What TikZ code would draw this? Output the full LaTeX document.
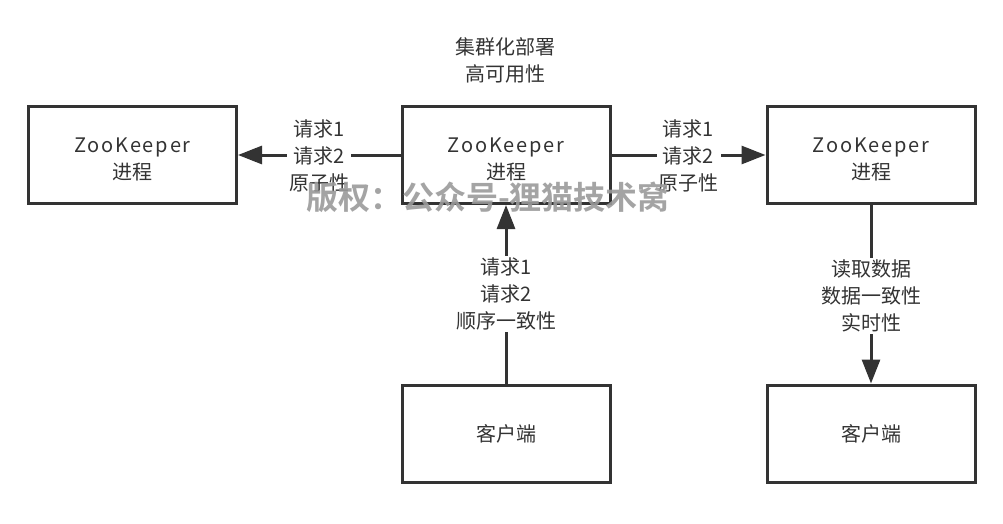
\documentclass[tikz,border=0pt]{standalone}
\usepackage{fontspec}
\setmainfont{Noto Sans CJK SC}
\newfontfamily\wmfont{Noto Sans CJK SC Bold}
\newfontfamily\zkfont[LetterSpace=9]{Noto Sans CJK SC}
\usetikzlibrary{arrows.meta}
\definecolor{ink}{HTML}{333333}
\definecolor{wm}{HTML}{9A9A9A}
\tikzset{
  box/.style={draw=ink, line width=3pt, minimum width=208pt, minimum height=97pt, inner sep=0pt, text=ink, align=center, font=\fontsize{20}{27}\selectfont},
  boxtxt/.style={text=ink, align=center, inner sep=0pt, font=\fontsize{20}{27}\selectfont},
  lbl/.style={fill=white, text=ink, align=center, inner sep=2pt, font=\fontsize{20}{27}\selectfont},
  conn/.style={draw=ink, line width=3pt, -{Triangle[length=24pt,width=18pt]}},
}
\newcommand{\zk}{{\zkfont ZooKeeper}\\进程}
\begin{document}
\begin{tikzpicture}[x=1pt,y=-1pt]
\useasboundingbox (0,0) rectangle (1003,524);
\node[box] (zl) at (132.5,155) {};
\node[box] (zm) at (506,155) {};
\node[box] (zr) at (871,155) {};
\node[boxtxt] (zlt) at ([yshift=-4pt]zl.center) {\zk};
\node[boxtxt] (zmt) at ([yshift=-4pt]zm.center) {\zk};
\node[boxtxt] (zrt) at ([yshift=-4pt]zr.center) {\zk};
\node[box] (cm) at (506,433.5) {客户端};
\node[box] (cr) at (871,433.5) {客户端};
\node[text=ink, align=center, font=\fontsize{20}{27}\selectfont] (top) at (505,60) {集群化部署\\高可用性};
\draw[conn] (zm.west) -- node[lbl, yshift=-1pt] {请求1\\请求2\\原子性} (zl.east);
\draw[conn] (zm.east) -- node[lbl, yshift=-1pt] {请求1\\请求2\\原子性} (zr.west);
\draw[conn] (cm.north) -- node[lbl] {请求1\\请求2\\顺序一致性} (zm.south);
\draw[conn] (zr.south) -- node[lbl, yshift=-2pt] {读取数据\\数据一致性\\实时性} (cr.north);
\node[text=wm, opacity=0.9, font=\wmfont\fontsize{32}{32}\selectfont] (wmark) at (488,197) {版权：公众号-狸猫技术窝};
\end{tikzpicture}
\end{document}
